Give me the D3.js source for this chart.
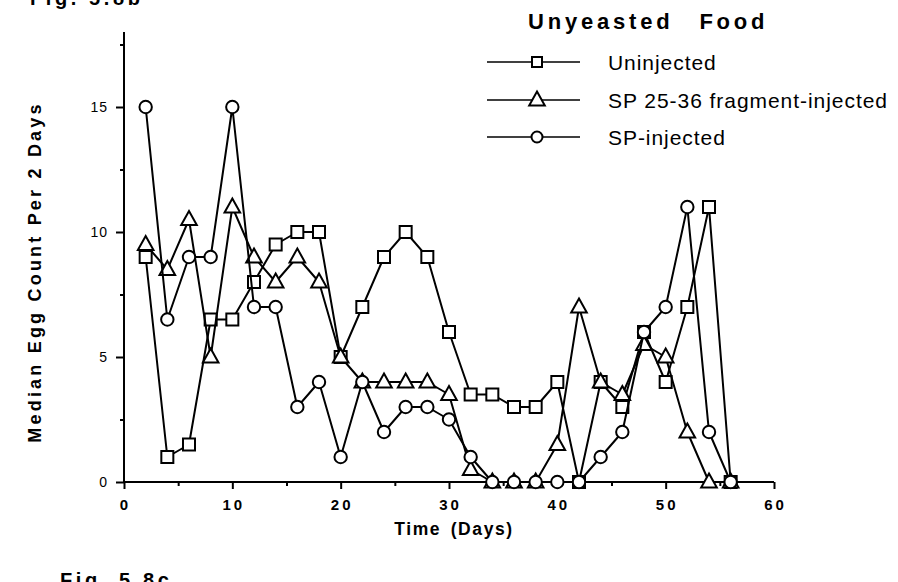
<!DOCTYPE html>
<html>
<head>
<meta charset="utf-8">
<script src="https://cdn.jsdelivr.net/npm/d3@7/dist/d3.min.js"></script>
<style>
  html, body { margin: 0; padding: 0; background: #fff; }
  svg { display: block; font-family: "Liberation Sans", Arial, Helvetica, sans-serif; }
</style>
</head>
<body>
<svg id="chart" width="898" height="582"></svg>
<script>
// Sampling days (every 2 days)
const days = [2, 4, 6, 8, 10, 12, 14, 16, 18, 20, 22, 24, 26, 28, 30, 32, 34, 36, 38, 40, 42, 44, 46, 48, 50, 52, 54, 56];

// Median egg count per 2 days for each group
const uninjected = [9, 1, 1.5, 6.5, 6.5, 8, 9.5, 10, 10, 5, 7, 9, 10, 9, 6, 3.5, 3.5, 3, 3, 4, 0, 4, 3, 6, 4, 7, 11, 0];
const fragmentInjected = [9.5, 8.5, 10.5, 5, 11, 9, 8, 9, 8, 5, 4, 4, 4, 4, 3.5, 0.5, 0, 0, 0, 1.5, 7, 4, 3.5, 5.5, 5, 2, 0, 0];
const spInjected = [15, 6.5, 9, 9, 15, 7, 7, 3, 4, 1, 4, 2, 3, 3, 2.5, 1, 0, 0, 0, 0, 0, 1, 2, 6, 7, 11, 2, 0];

const seriesNames = ["Uninjected", "SP 25-36 fragment-injected", "SP-injected"];
const seriesShapes = ["square", "triangle", "circle"];

const xTicks = [0, 10, 20, 30, 40, 50, 60];
const xMinorTicks = [5, 15, 25, 35, 45, 55];
const yTicks = [0, 5, 10, 15];
const yMinorTicks = [2.5, 7.5, 12.5, 17.5];

const svg = d3.select("#chart");

const x = d3.scaleLinear().domain([0, 60]).range([124, 774]);
const y = d3.scaleLinear().domain([0, 18]).range([482, 32]);

const ink = "#000";

// Axes
const xAxis = svg.append("g").attr("transform", `translate(0,${y(0)})`)
  .call(d3.axisBottom(x).tickValues(xTicks).tickSize(7).tickFormat(""));
const xMinor = svg.append("g").attr("transform", `translate(0,${y(0)})`)
  .call(d3.axisBottom(x).tickValues(xMinorTicks).tickSize(4).tickFormat(""));
const yAxis = svg.append("g").attr("transform", `translate(${x(0)},0)`)
  .call(d3.axisLeft(y).tickValues(yTicks).tickSize(8).tickFormat(""));
const yMinor = svg.append("g").attr("transform", `translate(${x(0)},0)`)
  .call(d3.axisLeft(y).tickValues(yMinorTicks).tickSize(4).tickFormat(""));

[xAxis, xMinor, yAxis, yMinor].forEach(g => {
  g.select(".domain").attr("stroke", ink).attr("stroke-width", 2);
  g.selectAll(".tick line").attr("stroke", ink).attr("stroke-width", 2);
});
xMinor.select(".domain").remove();
yMinor.select(".domain").remove();
xAxis.select(".domain").attr("d", `M${x(0)},0H${x(60)}`);
yAxis.select(".domain").attr("d", `M0,${y(18)}V${y(0)}`);

// Tick labels
svg.append("g").selectAll("text").data(xTicks).join("text")
  .attr("x", d => x(d) + 1.5)
  .attr("y", y(0) + 28)
  .attr("text-anchor", "middle")
  .attr("font-size", 15)
  .attr("font-weight", "bold")
  .attr("letter-spacing", 3)
  .text(d => d);

svg.append("g").selectAll("text").data(yTicks).join("text")
  .attr("x", x(0) - 16)
  .attr("y", d => y(d) + 5)
  .attr("text-anchor", "end")
  .attr("font-size", 14)
  .attr("letter-spacing", 1)
  .text(d => d);

// Axis titles
svg.append("text")
  .attr("x", 454).attr("y", 535)
  .attr("text-anchor", "middle")
  .attr("font-size", 17.5).attr("font-weight", "bold").attr("letter-spacing", 1.6)
  .attr("word-spacing", 3)
  .text("Time (Days)");

svg.append("text")
  .attr("transform", `translate(41,${272}) rotate(-90)`)
  .attr("text-anchor", "middle")
  .attr("font-size", 18).attr("font-weight", "bold").attr("letter-spacing", 3.2)
  .text("Median Egg Count Per 2 Days");

// Figure captions at the page edges
svg.append("text").attr("x", 30).attr("y", 5)
  .attr("font-size", 20).attr("font-weight", "bold").attr("letter-spacing", 3.6)
  .text("Fig. 5.8b");
svg.append("text").attr("x", 60).attr("y", 587)
  .attr("font-size", 20).attr("font-weight", "bold").attr("letter-spacing", 3.6)
  .text("Fig. 5.8c");

// Marker drawing
function drawMarker(sel, shape) {
  if (shape === "square") {
    sel.append("rect").attr("x", -6).attr("y", -6).attr("width", 12).attr("height", 12);
  } else if (shape === "triangle") {
    sel.append("path").attr("d", "M0,-8.5L7.8,5.5L-7.8,5.5Z");
  } else {
    sel.append("circle").attr("r", 6.2);
  }
  sel.selectAll("rect,path,circle")
    .attr("fill", "#fff").attr("stroke", ink).attr("stroke-width", 2);
}

const allSeries = [uninjected, fragmentInjected, spInjected];
const line = d3.line().x(d => x(d[0])).y(d => y(d[1]));

allSeries.forEach((vals, i) => {
  const pts = days.map((d, j) => [d, vals[j]]);
  const g = svg.append("g");
  g.append("path").attr("d", line(pts))
    .attr("fill", "none").attr("stroke", ink).attr("stroke-width", 2)
    .attr("stroke-linejoin", "round");
  g.selectAll("g.m").data(pts).join("g").attr("class", "m")
    .attr("transform", d => `translate(${x(d[0])},${y(d[1])})`)
    .each(function () { drawMarker(d3.select(this), seriesShapes[i]); });
});

// Legend
svg.append("text")
  .attr("x", 528).attr("y", 29)
  .attr("font-size", 22).attr("font-weight", "bold").attr("letter-spacing", 3.8)
  .attr("word-spacing", 16)
  .text("Unyeasted Food");

const legendRows = [62, 100, 137];
seriesNames.forEach((name, i) => {
  const g = svg.append("g").attr("transform", `translate(0,${legendRows[i]})`);
  g.append("line").attr("x1", 487).attr("x2", 580).attr("y1", 0).attr("y2", 0)
    .attr("stroke", ink).attr("stroke-width", 1.5);
  const m = g.append("g").attr("transform", "translate(537,0)");
  drawMarker(m, seriesShapes[i]);
  m.selectAll("rect").attr("x", -5).attr("y", -5).attr("width", 10).attr("height", 10);
  m.selectAll("circle").attr("r", 5.5);
  g.append("text").attr("x", 608).attr("y", 7.5)
    .attr("font-size", 21).attr("letter-spacing", 0.95)
    .text(name);
});
</script>
</body>
</html>
